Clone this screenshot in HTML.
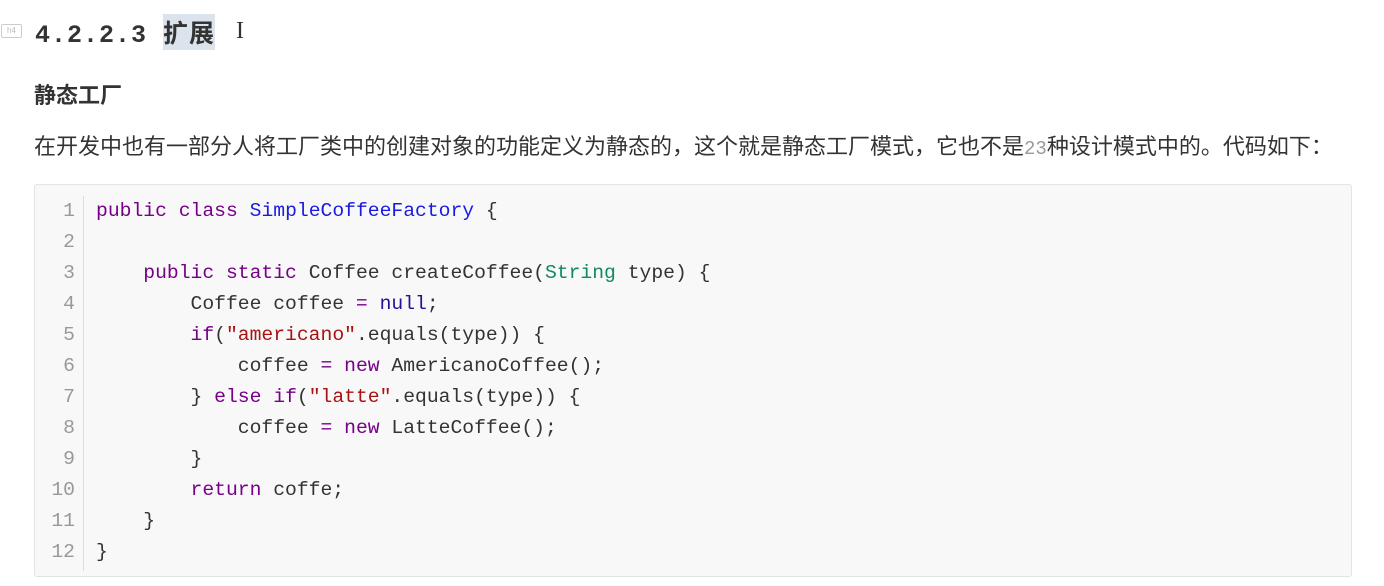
<!DOCTYPE html>
<html><head><meta charset="utf-8"><style>
body{margin:0;width:1384px;height:586px;background:#fff;position:relative;overflow:hidden;font-family:"Liberation Sans","Noto Sans CJK SC",sans-serif;color:#333}
.h4ic{position:absolute;left:1px;top:24px;width:19px;height:12px;border:1px solid #ccc;border-radius:2px;font-size:8px;color:#bbb;line-height:12px;text-align:center}
h4{position:absolute;left:35px;top:14px;margin:0;font:bold 25px "Liberation Mono","Noto Sans CJK SC",monospace;color:#333;letter-spacing:1px}
h4 span{background:#dbe3ec;font-family:"Noto Sans CJK SC",sans-serif}
.cur{position:absolute;left:236px;top:18px;font:24px "Liberation Serif",serif;color:#333}
.t{position:absolute;left:34px;top:78px;font-weight:bold;font-size:22px;color:#333}
.p{position:absolute;left:34px;top:129px;font-size:22px;color:#333;white-space:nowrap}
.p .n{font-family:"Liberation Mono",monospace;color:#999;font-size:19px}
.code{position:absolute;left:34px;top:184px;width:1316px;height:391px;background:#f8f8f8;border:1px solid #e4e4e4;border-radius:3px}
.gut{position:absolute;left:0;top:11px;width:48px;height:375px;border-right:1px solid #ddd;text-align:right;padding-right:0}
.ln,.cl{font:19.7px/31px "Liberation Mono",monospace;white-space:pre}
.ln{color:#999;padding-right:8px}
.src{position:absolute;left:61px;top:11px;color:#333}
.k{color:#770088}.c{color:#1a1ae0}.s{color:#aa1111}.g{color:#118866}.a{color:#221199}
</style></head><body>
<div class="h4ic">h4</div>
<h4>4.2.2.3 <span>扩展</span></h4>
<div class="cur">I</div>
<div class="t">静态工厂</div>
<div class="p">在开发中也有一部分人将工厂类中的创建对象的功能定义为静态的，这个就是静态工厂模式，它也不是<span class="n">23</span>种设计模式中的。代码如下：</div>
<div class="code">
<div class="gut"><div class="ln">1</div><div class="ln">2</div><div class="ln">3</div><div class="ln">4</div><div class="ln">5</div><div class="ln">6</div><div class="ln">7</div><div class="ln">8</div><div class="ln">9</div><div class="ln">10</div><div class="ln">11</div><div class="ln">12</div></div>
<div class="src">
<div class="cl"><span class="k">public</span> <span class="k">class</span> <span class="c">SimpleCoffeeFactory</span> {</div>
<div class="cl"> </div>
<div class="cl">    <span class="k">public</span> <span class="k">static</span> Coffee createCoffee(<span class="g">String</span> type) {</div>
<div class="cl">        Coffee coffee <span class="k">=</span> <span class="a">null</span>;</div>
<div class="cl">        <span class="k">if</span>(<span class="s">"americano"</span>.equals(type)) {</div>
<div class="cl">            coffee <span class="k">=</span> <span class="k">new</span> AmericanoCoffee();</div>
<div class="cl">        } <span class="k">else</span> <span class="k">if</span>(<span class="s">"latte"</span>.equals(type)) {</div>
<div class="cl">            coffee <span class="k">=</span> <span class="k">new</span> LatteCoffee();</div>
<div class="cl">        }</div>
<div class="cl">        <span class="k">return</span> coffe;</div>
<div class="cl">    }</div>
<div class="cl">}</div>
</div>
</div>
</body></html>
